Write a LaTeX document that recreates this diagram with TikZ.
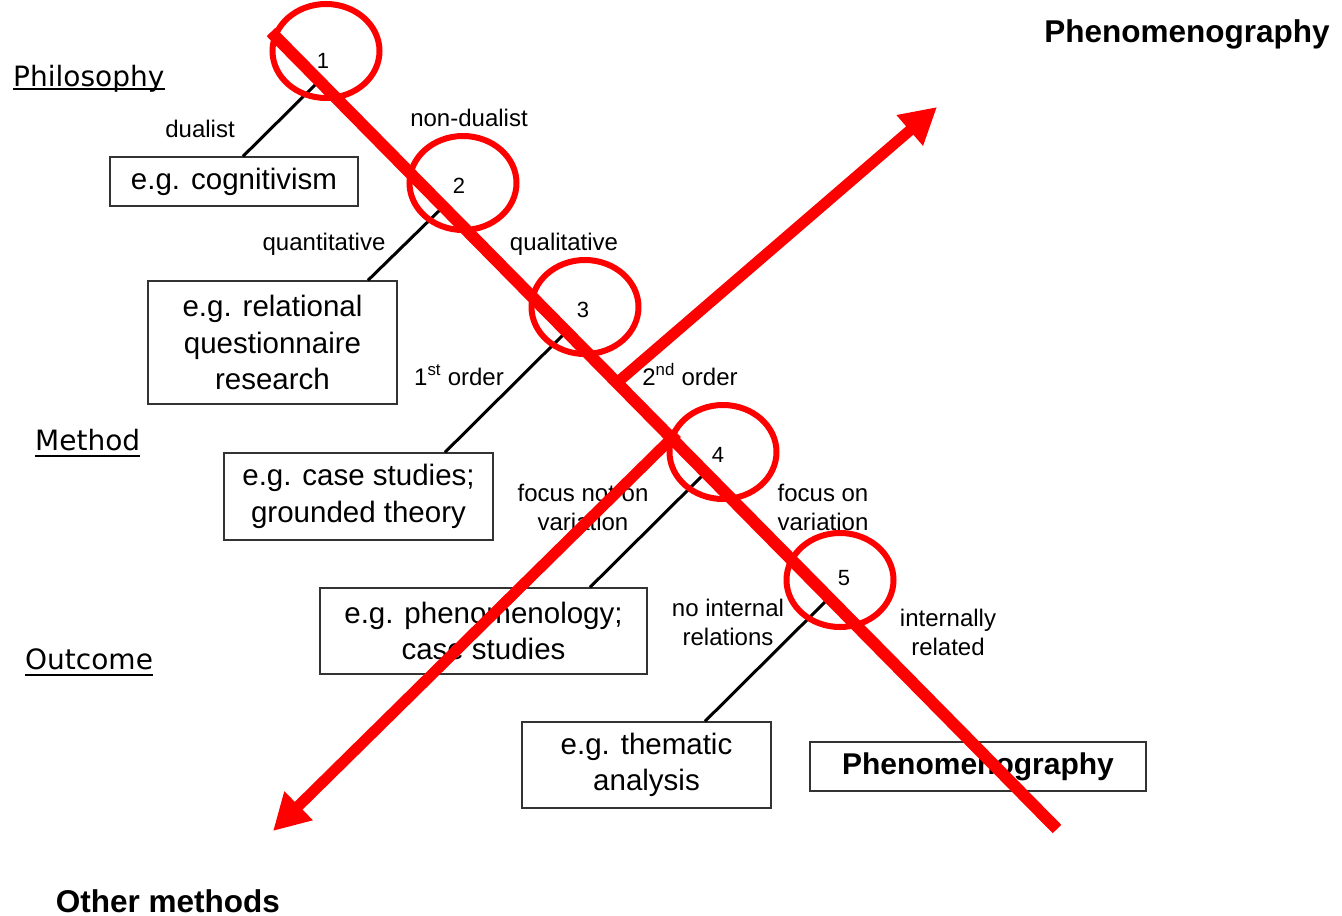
\documentclass[tikz,border=0pt]{standalone}
\usepackage{fontspec}
\setmainfont{Liberation Sans}
\newfontfamily\handfont{DejaVu Sans}
\usetikzlibrary{positioning,shapes.geometric,arrows.meta}

\begin{document}
\begin{tikzpicture}[x=1pt,y=-1pt,
      egbox/.style = {draw=black!80, line width=1.4pt, align=center, inner sep=0pt,
         font=\fontsize{29.5}{36.5}\selectfont},
      branch/.style = {line width=3pt},
      lbl/.style = {align=center, inner sep=0pt, font=\fontsize{24}{29}\selectfont},
      num/.style = {inner sep=0pt, font=\fontsize{22}{24}\selectfont},
      level/.style = {inner sep=0pt, font=\handfont\fontsize{28}{32}\selectfont},
      heading/.style = {inner sep=0pt, font=\fontsize{31.5}{36}\selectfont\bfseries},
      ring/.style = {ellipse, draw=red, line width=6pt, inner sep=0pt,
         minimum width=107pt, minimum height=94pt},
      cross/.style = {red, line width=12pt},
      redarrow/.style = {red, line width=11pt, -{Triangle[length=36pt,width=38pt]}}
]
      \useasboundingbox (0,0) rectangle (1342,916);

      % levels on the left
      \node[level, anchor=base west] (ph) at (13,86)  {Philosophy};
      \node[level, anchor=base west] (me) at (35,450) {Method};
      \node[level, anchor=base west] (ou) at (25,669) {Outcome};
      \draw[line width=2.6pt] ([yshift=-3pt]ph.base west) -- ([yshift=-3pt]ph.base east);
      \draw[line width=2.6pt] ([yshift=-6pt]me.base west) -- ([yshift=-6pt]me.base east);
      \draw[line width=2.6pt] ([yshift=-6pt]ou.base west) -- ([yshift=-6pt]ou.base east);

      % decision points
      \node[num] (n1) at (323,61)  {1};
      \node[num] (n2) at (459,186) {2};
      \node[num] (n3) at (583,310) {3};
      \node[num] (n4) at (718,455) {4};
      \node[num] (n5) at (844,578) {5};

      % example boxes
      \node[egbox, minimum width=248pt, minimum height=49pt]  (b1) at (234,181.5)
         {e.g. cognitivism};
      \node[egbox, minimum width=249pt, minimum height=123pt] (b2) at (272.5,342.5)
         {e.g. relational\\questionnaire\\research};
      \node[egbox, minimum width=269pt, minimum height=87pt]  (b3) at (358.5,496.5)
         {e.g. case studies;\\grounded theory};
      \node[egbox, minimum width=327pt, minimum height=86pt]  (b4) at (483.5,631)
         {e.g. phenomenology;\\case studies};
      \node[egbox, minimum width=249pt, minimum height=86pt]  (b5) at (646.5,765)
         {e.g. thematic\\analysis};
      \node[egbox, minimum width=336pt, minimum height=49pt,
         font=\fontsize{30}{36}\selectfont\bfseries]          (b6) at (978,766.5)
         {Phenomenography};

      % branch labels
      \node[lbl, anchor=base] (l1a) at (200,137) {dualist};
      \node[lbl, anchor=base] (l1b) at (469,126) {non-dualist};
      \node[lbl, anchor=base] (l2a) at (324,250) {quantitative};
      \node[lbl, anchor=base] (l2b) at (564,250) {qualitative};
      \node[lbl, anchor=base] (l3a) at (459,385) {1\textsuperscript{st} order};
      \node[lbl, anchor=base] (l3b) at (690,385) {2\textsuperscript{nd} order};
      \node[lbl] (l4a) at (583,507) {focus not on\\variation};
      \node[lbl] (l4b) at (823,507) {focus on\\variation};
      \node[lbl] (l5a) at (728,622) {no internal\\relations};
      \node[lbl] (l5b) at (948,632) {internally\\related};

      % branches to the examples
      \coordinate[below left=21pt and 5pt of n1.center]  (s1);
      \coordinate[below left=20pt and 15pt of n2.center] (s2);
      \coordinate[below left=21pt and 16pt of n3.center] (s3);
      \coordinate[below left=21pt and 16pt of n4.center] (s4);
      \coordinate[below left=24pt and 19pt of n5.center] (s5);
      \coordinate (t1) at ([xshift=9pt]b1.north);
      \coordinate (t2) at ([xshift=95.5pt]b2.north);
      \coordinate (t3) at ([xshift=86.5pt]b3.north);
      \coordinate (t4) at ([xshift=106.5pt]b4.north);
      \coordinate (t5) at ([xshift=58.5pt]b5.north);
      \foreach \i in {1,...,5}
         \draw[branch] (s\i) -- (t\i);

      % headings
      \node[heading, anchor=base] (hp) at (1187,42)  {Phenomenography};
      \node[heading, anchor=base] (ho) at (168,912)  {Other methods};

      % red circles
      \node[ring] (c1) at (326,51)  {};
      \node[ring] (c2) at (463,183) {};
      \node[ring] (c3) at (585,307) {};
      \node[ring] (c4) at (723,452) {};
      \node[ring] (c5) at (840,580) {};

      % red strike and arrows
      \coordinate (xa)  at (271,32);
      \coordinate (xb)  at (1057,829);
      \coordinate (up0) at (619,381);
      \coordinate (up1) at (937,107);
      \coordinate (dn0) at (677,433);
      \coordinate (dn1) at (273,831);
      \draw[cross] (xa) -- (xb);
      \draw[redarrow] (up0) -- (up1);
      \draw[redarrow] (dn0) -- (dn1);
\end{tikzpicture}
\end{document}
